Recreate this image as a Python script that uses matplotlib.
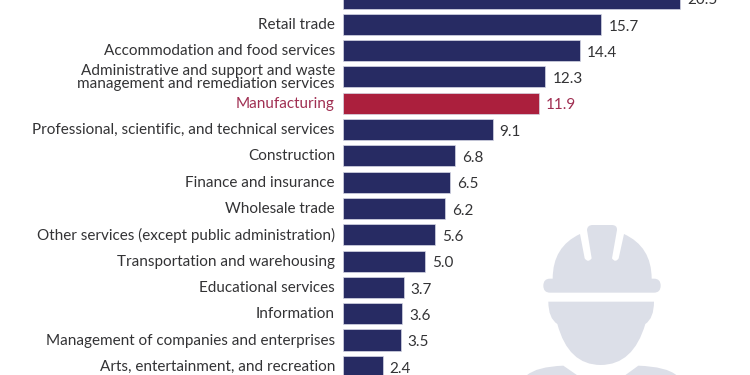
import matplotlib
matplotlib.use("Agg")
import matplotlib.pyplot as plt
from matplotlib.path import Path
from matplotlib.patches import PathPatch

categories = ["", "Retail trade", "Accommodation and food services",
              "Administrative and support and waste\nmanagement and remediation services",
              "Manufacturing", "Professional, scientific, and technical services",
              "Construction", "Finance and insurance", "Wholesale trade",
              "Other services (except public administration)",
              "Transportation and warehousing", "Educational services", "Information",
              "Management of companies and enterprises",
              "Arts, entertainment, and recreation"]
values = [20.5, 15.7, 14.4, 12.3, 11.9, 9.1, 6.8, 6.5, 6.2, 5.6, 5.0, 3.7, 3.6, 3.5, 2.4]
highlight = "Manufacturing"

NAVY, RED, TXT, ICON = "#272b63", "#ab1f3d", "#333335", "#dcdfe8"
RED_TXT = "#a02f52"
plt.rcParams["font.family"] = ["Lato", "DejaVu Sans"]

fig = plt.figure(figsize=(7.5, 3.75), dpi=100)
ax = fig.add_axes([0, 0, 1, 1])
scale = 16.46
ax.set_xlim(-343 / scale, 407 / scale)
ax.set_ylim(14.33, 0.076)
ax.axis("off")

for i, (c, v) in enumerate(zip(categories, values)):
    hi = c == highlight
    ax.barh(i, v, height=0.8, color=RED if hi else NAVY, edgecolor="#d5d7e4", linewidth=0.5)
    ax.annotate(c, (0, i), xytext=(-5.8, -0.4), textcoords="offset points", ha="right", va="center",
                fontsize=11, color=RED_TXT if hi else TXT, linespacing=0.85,
                annotation_clip=False)
    ax.annotate(f"{v:.1f}", (v, i), xytext=(5, -1.6), textcoords="offset points", ha="left", va="center",
                fontsize=11, color=RED_TXT if hi else TXT, annotation_clip=False)

# worker icon (decoration), drawn in pixel space of the zoomed crop
ov = fig.add_axes([0, 0, 1, 1], zorder=0)
ov.set_xlim(0, 750); ov.set_ylim(375, 0); ov.axis("off"); ov.patch.set_alpha(0)
def P(x, y):
    return (500 + x / 3, 210 + y / 3)
M, L, C, Z = Path.MOVETO, Path.LINETO, Path.CURVE3, Path.CLOSEPOLY
def shape(seq):
    verts, codes = [], []
    for code, pt in seq:
        verts.append(P(*pt)); codes.append(code)
    ov.add_patch(PathPatch(Path(verts, codes), fc=ICON, ec="none"))
# brim + dome sides
shape([(M, (150, 206)), (L, (158, 206)), (C, (158, 110)), (C, (240, 72)), (L, (254, 145)),
       (C, (264, 160)), (C, (275, 145)), (L, (261, 60)), (C, (262, 45)), (C, (278, 45)),
       (L, (335, 45)), (C, (352, 45)), (C, (351, 60)), (L, (336, 145)), (C, (346, 160)),
       (C, (356, 145)), (L, (372, 72)), (C, (455, 110)), (C, (455, 206)), (L, (462, 206)),
       (C, (482, 206)), (C, (482, 227)), (C, (482, 248)), (C, (462, 248)), (L, (150, 248)),
       (C, (130, 248)), (C, (130, 227)), (C, (130, 206)), (C, (150, 206)), (Z, (150, 206))])
# face
shape([(M, (145, 275)), (L, (462, 275)), (C, (462, 325)), (C, (436, 342)),
       (C, (400, 465)), (C, (302, 465)), (C, (205, 465)), (C, (172, 342)),
       (C, (145, 325)), (C, (145, 275)), (Z, (145, 275))])
# shoulders
shape([(M, (80, 496)), (C, (110, 470)), (C, (190, 467)), (L, (232, 496)), (Z, (80, 496))])
shape([(M, (530, 496)), (C, (500, 470)), (C, (415, 467)), (L, (375, 496)), (Z, (530, 496))])

fig.savefig("out.png", dpi=100)
